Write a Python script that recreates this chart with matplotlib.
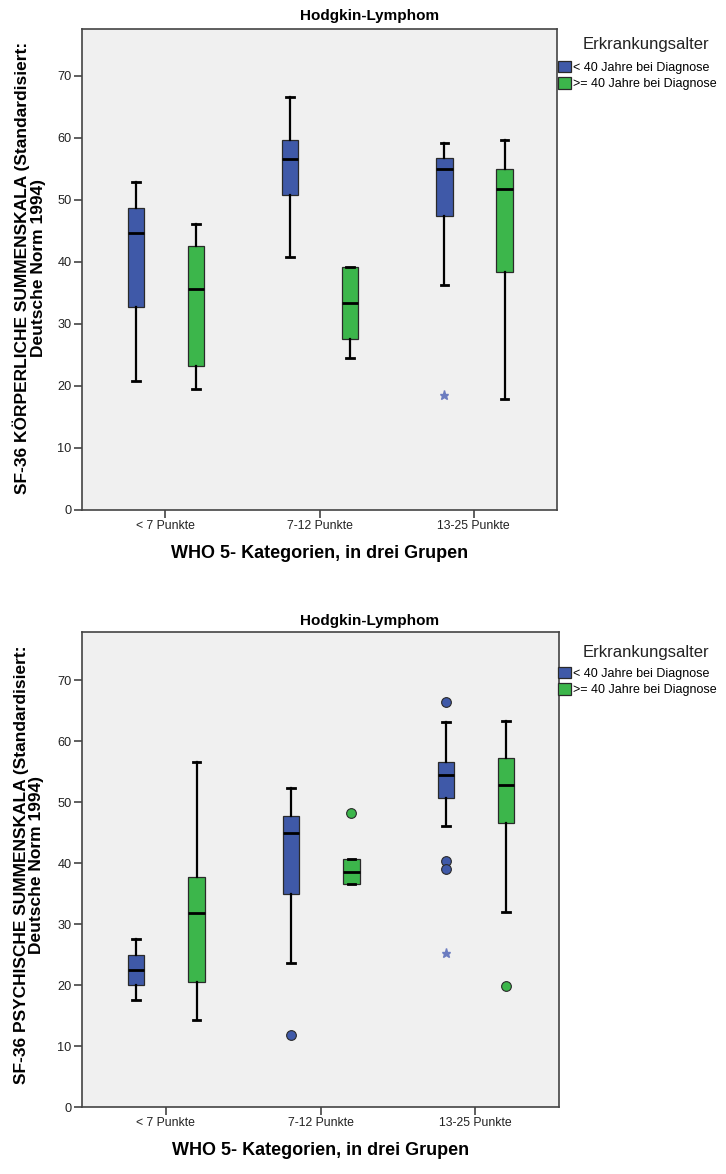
import matplotlib
matplotlib.use("Agg")
import matplotlib.pyplot as plt
from matplotlib.patches import Patch

plt.rcParams['font.family'] = ['Liberation Sans', 'DejaVu Sans']

categories = ["< 7 Punkte", "7-12 Punkte", "13-25 Punkte"]
groups = ["< 40 Jahre bei Diagnose", ">= 40 Jahre bei Diagnose"]
title = "Hodgkin-Lymphom"
xlabel = "WHO 5- Kategorien, in drei Grupen"
legend_title = "Erkrankungsalter"
ylabel_top = "SF-36 KÖRPERLICHE SUMMENSKALA (Standardisiert:\nDeutsche Norm 1994)"
ylabel_bot = "SF-36 PSYCHISCHE SUMMENSKALA (Standardisiert:\nDeutsche Norm 1994)"
yticks = [0, 10, 20, 30, 40, 50, 60, 70]

# Körperliche Summenskala
k_u40_low = [20.7, 40.8, 36.3]
k_u40_q1 = [32.7, 50.7, 47.4]
k_u40_med = [44.6, 56.6, 55.0]
k_u40_q3 = [48.7, 59.6, 56.8]
k_u40_high = [52.8, 66.5, 59.1]
k_u40_out = [[], [], []]
k_u40_ext = [[], [], [18.5]]

k_o40_low = [19.4, 24.5, 17.9]
k_o40_q1 = [23.1, 27.6, 38.4]
k_o40_med = [35.6, 33.4, 51.8]
k_o40_q3 = [42.6, 39.2, 55.0]
k_o40_high = [46.1, 39.2, 59.7]
k_o40_out = [[], [], []]
k_o40_ext = [[], [], []]

# Psychische Summenskala
p_u40_low = [17.6, 23.6, 46.1]
p_u40_q1 = [20.0, 34.9, 50.6]
p_u40_med = [22.5, 45.0, 54.5]
p_u40_q3 = [25.0, 47.7, 56.6]
p_u40_high = [27.5, 52.3, 63.1]
p_u40_out = [[], [11.8], [66.4, 40.4, 39.0]]
p_u40_ext = [[], [], [25.3]]

p_o40_low = [14.3, 36.5, 32.0]
p_o40_q1 = [20.5, 36.5, 46.5]
p_o40_med = [31.8, 38.6, 52.8]
p_o40_q3 = [37.7, 40.6, 57.3]
p_o40_high = [56.5, 40.6, 63.3]
p_o40_out = [[], [48.2], [19.9]]
p_o40_ext = [[], [], []]

BLUE = "#3f59a8"
GREEN = "#3cb64b"
STAR = "#6b7cc0"
EDGE = "#2a2a2a"
BG = "#f0f0f0"
W, H = 726, 1174


def stats(low, q1, med, q3, high, out):
    return [dict(whislo=a, q1=b, med=c, q3=d, whishi=e, fliers=f)
            for a, b, c, d, e, f in zip(low, q1, med, q3, high, out)]


def fx(px):
    return px / W


def fy(py):
    return 1 - py / H


fig = plt.figure(figsize=(7.26, 11.74), dpi=100)
ax1 = fig.add_axes([fx(82), fy(509.6), 475 / W, 481 / H])
ax2 = fig.add_axes([fx(82), fy(1107), 477 / W, 475 / H])

panels = [
    (ax1, ylabel_top, 77.6, 268, 16, 45, 58,
     (k_u40_low, k_u40_q1, k_u40_med, k_u40_q3, k_u40_high, k_u40_out, k_u40_ext),
     (k_o40_low, k_o40_q1, k_o40_med, k_o40_q3, k_o40_high, k_o40_out, k_o40_ext)),
    (ax2, ylabel_bot, 77.9, 865, 621, 652, 664,
     (p_u40_low, p_u40_q1, p_u40_med, p_u40_q3, p_u40_high, p_u40_out, p_u40_ext),
     (p_o40_low, p_o40_q1, p_o40_med, p_o40_q3, p_o40_high, p_o40_out, p_o40_ext)),
]

offsets = [-0.19, 0.20]
colors = [BLUE, GREEN]
handles = [Patch(facecolor=c, edgecolor=EDGE, linewidth=0.9) for c in colors]

for ax, ylab, ytop, ylab_y, title_y, legt_y, leg_y, ser_a, ser_b in panels:
    ax.set_facecolor(BG)
    for ser, off, col in zip([ser_a, ser_b], offsets, colors):
        st = stats(*ser[:6])
        pos = [i + off for i in range(len(categories))]
        ax.bxp(st, positions=pos, widths=0.105, capwidths=0.05,
               patch_artist=True, showfliers=True,
               boxprops=dict(facecolor=col, edgecolor=EDGE, linewidth=0.9),
               medianprops=dict(color="black", linewidth=2.0),
               whiskerprops=dict(color="black", linewidth=1.6),
               capprops=dict(color="black", linewidth=2.0),
               flierprops=dict(marker="o", markerfacecolor=col, markeredgecolor=EDGE,
                               markeredgewidth=0.8, markersize=7, linestyle="none"))
        for p, ext in zip(pos, ser[6]):
            if ext:
                ax.plot([p] * len(ext), ext, linestyle="none", marker="*",
                        color=STAR, markersize=6.5)
    ax.set_xlim(-0.54, 2.54)
    ax.set_ylim(0, ytop)
    ax.set_xticks(range(len(categories)))
    ax.set_xticklabels(categories, fontsize=8.8, color="#222222")
    ax.set_yticks(yticks)
    ax.set_yticklabels([str(v) for v in yticks], fontsize=9.2, color="#222222")
    ax.tick_params(axis="both", direction="out", length=5.5, width=1.2, color="#444444",
                   pad=2)
    for s in ax.spines.values():
        s.set_color("#444444")
        s.set_linewidth(1.2)
    ax.set_xlabel(xlabel, fontsize=13, fontweight="bold", labelpad=9)
    fig.text(fx(29), fy(ylab_y), ylab, rotation=90, ha="center", va="center",
             multialignment="center", fontsize=12.5, fontweight="bold", linespacing=1.08)
    fig.text(fx(370), fy(title_y), title, ha="center", va="center",
             fontsize=11, fontweight="bold")
    fig.text(fx(646), fy(legt_y), legend_title, ha="center", va="center",
             fontsize=12, color="#222222")
    fig.legend(handles, groups, loc="upper left",
               bbox_to_anchor=(fx(555), fy(leg_y)),
               frameon=False, fontsize=9.0,
               handlelength=1.05, handleheight=1.05, handletextpad=0.2,
               labelspacing=0.3, borderaxespad=0, borderpad=0.2)

fig.savefig("out.png", dpi=100)
